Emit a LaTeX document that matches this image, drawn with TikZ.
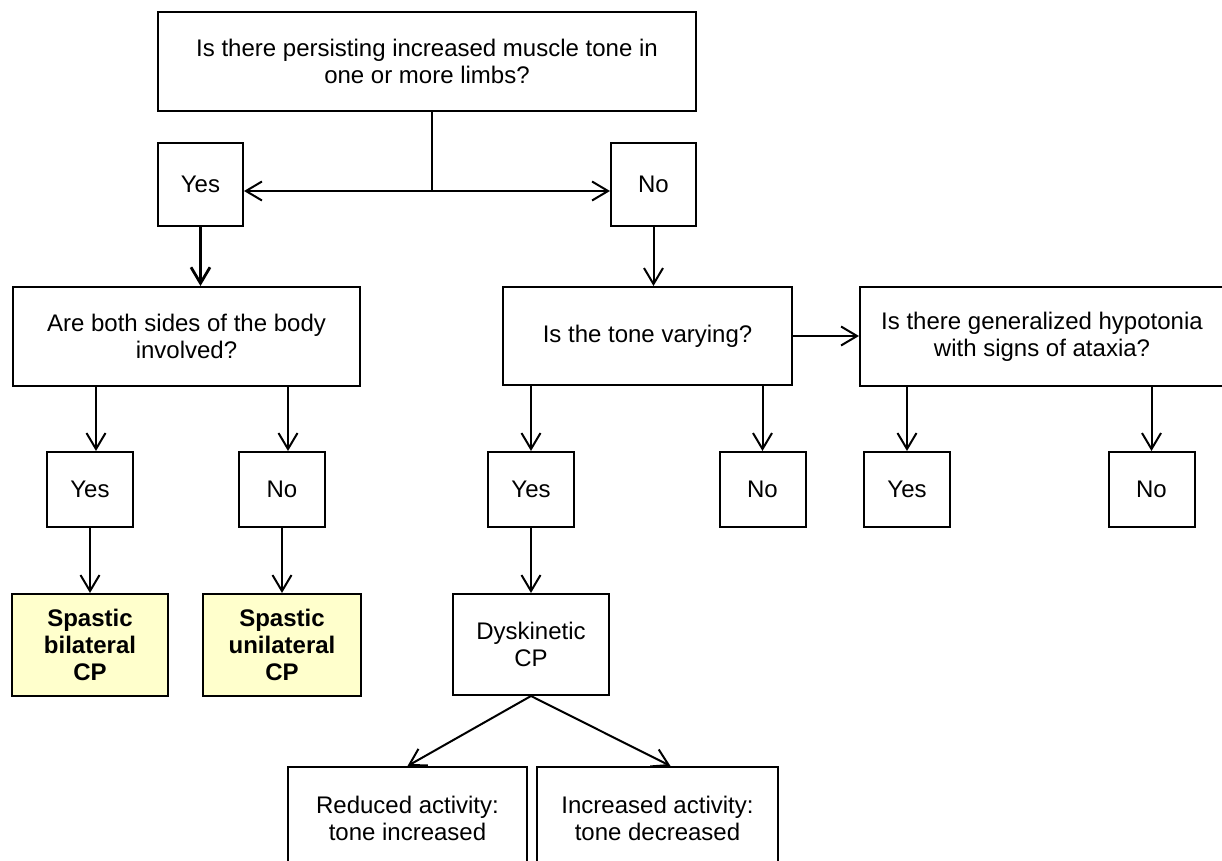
\documentclass[tikz,border=0pt]{standalone}
\usepackage{fontspec}
\setmainfont{Liberation Sans}
\usetikzlibrary{arrows.meta,positioning}
\definecolor{resultbg}{RGB}{255,255,204}

\begin{document}
\begin{tikzpicture}[
    x=0.5pt, y=-0.5pt,
    line width=1pt,
    box/.style={rectangle, draw, inner sep=0pt, align=center, font=\fontsize{12}{13.5}\selectfont},
    question/.style={box, minimum height=49.5pt},
    answer/.style={box, minimum width=43pt, minimum height=37.5pt},
    result/.style={box, fill=resultbg, minimum width=78pt, minimum height=51pt, font=\fontsize{12}{13.5}\selectfont\bfseries},
    outcome/.style={box, minimum height=51pt},
    >={Straight Barb[length=8pt,width=9.5pt]}
]
    \useasboundingbox (0,0) rectangle (1222,861);

    \node[question, minimum width=269pt] (limbs) at (427,61.5) {Is there persisting increased muscle tone in\\one or more limbs?};
    \node[answer, minimum width=42.5pt, minimum height=41.5pt] (limbsyes) at (200.5,184.5) {Yes};
    \node[answer, minimum width=42.5pt, minimum height=41.5pt] (limbsno) at (653.5,184.5) {No};

    \node[question, minimum width=173.5pt] (sides) at (186.5,336.5) {Are both sides of the body\\involved?};
    \node[question, minimum width=144.5pt, minimum height=49pt] (varying) at (647.5,336) {Is the tone varying?};
    \node[question, minimum width=182pt] (hypotonia) at (1042,337) {Is there generalized hypotonia\\with signs of ataxia?};

    \node[answer] (sidesyes) at (90,489.5) {Yes};
    \node[answer] (sidesno) at (282,489.5) {No};
    \node[answer] (varyingyes) at (531,489.5) {Yes};
    \node[answer] (varyingno) at (762.5,489.5) {No};
    \node[answer] (ataxiayes) at (907,489.5) {Yes};
    \node[answer] (ataxiano) at (1151.5,489.5) {No};

    \node[result] (bilateral) at (90,645) {Spastic\\bilateral\\CP};
    \node[result, minimum width=79pt] (unilateral) at (282,645) {Spastic\\unilateral\\CP};
    \node[outcome, minimum width=78pt, minimum height=50.5pt] (dyskinetic) at (531,644.5) {Dyskinetic\\CP};

    \node[outcome, minimum width=119.5pt] (reduced) at (407.5,818) {Reduced activity:\\tone increased};
    \node[outcome, minimum width=120.5pt] (increased) at (657.5,818) {Increased activity:\\tone decreased};

    \coordinate (split) at (432,191);
    \draw (limbs.south -| split) -- (split);
    \draw[<->] (limbsyes.east |- split) -- (limbsno.west |- split);

    \draw[->, line width=1.4pt] (limbsyes.south) -- (limbsyes.south |- sides.north);
    \draw[->] (limbsno.south) -- (limbsno.south |- varying.north);
    \draw[->] (varying.east) -- (varying.east -| hypotonia.west);

    \draw[->] ([xshift=3pt]sidesyes.north |- sides.south) -- ([xshift=3pt]sidesyes.north);
    \draw[->] ([xshift=3pt]sidesno.north |- sides.south) -- ([xshift=3pt]sidesno.north);
    \draw[->] (varyingyes.north |- varying.south) -- (varyingyes.north);
    \draw[->] (varyingno.north |- varying.south) -- (varyingno.north);
    \draw[->] (ataxiayes.north |- hypotonia.south) -- (ataxiayes.north);
    \draw[->] (ataxiano.north |- hypotonia.south) -- (ataxiano.north);

    \draw[->] (sidesyes) -- (bilateral);
    \draw[->] (sidesno) -- (unilateral);
    \draw[->] (varyingyes) -- (dyskinetic);

    \draw[->] (dyskinetic.south) -- (reduced.north);
    \draw[->] (dyskinetic.south) -- ([xshift=6.5pt]increased.north);
\end{tikzpicture}
\end{document}
